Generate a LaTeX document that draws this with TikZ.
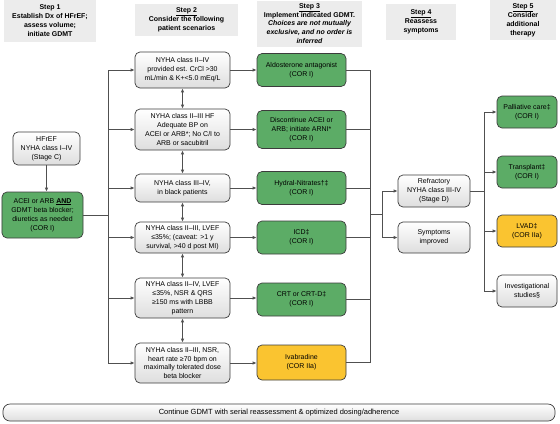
\documentclass[tikz,border=0pt]{standalone}
\usepackage{fontspec}
\setmainfont{Liberation Sans}
\usetikzlibrary{arrows.meta}
\definecolor{boxgreen}{RGB}{92,172,102}
\definecolor{boxyellow}{RGB}{250,196,48}
\definecolor{hdrgray}{RGB}{236,236,236}
\definecolor{edge}{RGB}{60,60,60}
\definecolor{conn}{RGB}{80,80,80}
\begin{document}
\begin{tikzpicture}[x=1bp,y=-1bp,
  base/.style={draw=edge,line width=0.7bp,rounded corners=5bp,align=center,
    font=\fontsize{7}{9}\selectfont,inner sep=1bp},
  graybox/.style={base,top color=white,bottom color=black!13},
  greenbox/.style={base,fill=boxgreen},
  yellowbox/.style={base,fill=boxyellow},
  hdr/.style={fill=hdrgray,align=center,font=\bfseries\fontsize{7}{9}\selectfont,inner sep=1bp},
  conline/.style={draw=conn,line width=0.8bp},
  arr/.style={conline,-{Latex[length=4bp,width=3.5bp]}},
  darr/.style={conline,{Latex[length=4bp,width=3.5bp]}-{Latex[length=4bp,width=3.5bp]}}
]
\useasboundingbox (0,0) rectangle (560,423);
% headers
\node[hdr,minimum width=92bp,minimum height=42bp] (h1) at (50,21) {Step 1\\Establish Dx of HFrEF;\\assess volume;\\initiate GDMT};
\node[hdr,minimum width=103bp,minimum height=32bp] (h2) at (186.5,20) {\underline{Step 2}\\Consider the following\\patient scenarios};
\node[hdr,minimum width=105bp,minimum height=46bp,inner sep=0pt,font=\bfseries\fontsize{7}{8.7}\selectfont] (h3) at (309.5,23.5) {\underline{Step 3}\\Implement indicated GDMT.\\\itshape Choices are not mutually\\\itshape exclusive, and no order is\\\itshape inferred};
\node[hdr,minimum width=70bp,minimum height=36bp] (h4) at (421,22) {\underline{Step 4}\\Reassess\\symptoms};
\node[hdr,minimum width=66bp,minimum height=40bp] (h5) at (523,20) {\underline{Step 5}\\Consider\\additional\\therapy};
% column 1
\node[graybox,minimum width=67bp,minimum height=33bp] (hf) at (46.5,148.5) {HFrEF\\NYHA class I–IV\\(Stage C)};
\node[greenbox,minimum width=81bp,minimum height=46bp] (acei) at (42.5,215) {ACEI or ARB \textbf{\underline{AND}}\\GDMT beta blocker;\\diuretics as needed\\(COR I)};
% column 2
\node[graybox,minimum width=95bp,minimum height=36bp] (n1) at (182.5,70) {NYHA class II–IV\\provided est. CrCl >30\\mL/min \& K+<5.0 mEq/L};
\node[graybox,minimum width=95bp,minimum height=41bp] (n2) at (182.5,129.5) {NYHA class II–III HF\\Adequate BP on\\ACEI or ARB*; No C/I to\\ARB or sacubitril};
\node[graybox,minimum width=95bp,minimum height=28bp] (n3) at (182.5,188) {NYHA class III–IV,\\in black patients};
\node[graybox,minimum width=95bp,minimum height=31bp] (n4) at (182.5,237.5) {NYHA class II–III, LVEF\\≤35\%; (caveat: >1 y\\survival, >40 d post MI)};
\node[graybox,minimum width=95bp,minimum height=40bp] (n5) at (182.5,298) {NYHA class II–IV, LVEF\\≤35\%, NSR \& QRS\\≥150 ms with LBBB\\pattern};
\node[graybox,minimum width=95bp,minimum height=40bp] (n6) at (182.5,363) {NYHA class II–III, NSR,\\heart rate ≥70 bpm on\\maximally tolerated dose\\beta blocker};
% column 3
\node[greenbox,minimum width=89bp,minimum height=33bp] (g1) at (301.5,70) {Aldosterone antagonist\\(COR I)};
\node[greenbox,minimum width=89bp,minimum height=38bp] (g2) at (301.5,129.5) {Discontinue ACEI or\\ARB; initiate ARNI*\\(COR I)};
\node[greenbox,minimum width=89bp,minimum height=33bp] (g3) at (301.5,188) {Hydral-Nitrates†‡\\(COR I)};
\node[greenbox,minimum width=89bp,minimum height=33bp] (g4) at (301.5,237.5) {ICD‡\\(COR I)};
\node[greenbox,minimum width=89bp,minimum height=33bp] (g5) at (301.5,299.5) {CRT or CRT-D‡\\(COR I)};
\node[yellowbox,minimum width=89bp,minimum height=35bp] (g6) at (301.5,362.5) {Ivabradine\\(COR IIa)};
% column 4
\node[graybox,minimum width=72bp,minimum height=32bp] (ref) at (434,191) {Refractory\\NYHA class III-IV\\(Stage D)};
\node[graybox,minimum width=72bp,minimum height=31bp] (imp) at (434,237.5) {Symptoms\\improved};
% column 5
\node[greenbox,minimum width=60bp,minimum height=32bp] (pal) at (527,112) {Palliative care‡\\(COR I)};
\node[greenbox,minimum width=60bp,minimum height=32bp] (tra) at (527,172) {Transplant‡\\(COR I)};
\node[yellowbox,minimum width=60bp,minimum height=32bp] (lvad) at (527,231) {LVAD‡\\(COR IIa)};
\node[graybox,minimum width=60bp,minimum height=32bp] (inv) at (527,291) {Investigational\\studies§};
% bottom
\node[graybox,minimum width=552bp,minimum height=17bp,rounded corners=7bp,font=\fontsize{7.5}{9}\selectfont] (cont) at (279,412.5) {Continue GDMT with serial reassessment \& optimized dosing/adherence};
% trunk coordinates
\coordinate (tr1) at (108,0);
\coordinate (tr3) at (370,0);
\coordinate (sp) at (382,214);
\coordinate (tr5) at (484,0);
% connectors column 1
\draw[arr] (hf.south) -- (hf.south |- acei.north);
\draw[conline] (acei.east) -- (acei.east -| tr1);
\draw[conline] (tr1 |- n1.west) -- (tr1 |- n6.west);
\foreach \n in {n1,n2,n3,n4,n5,n6} \draw[arr] (tr1 |- \n.west) -- (\n.west);
% between step-2 boxes
\draw[darr] (n1.south) -- (n2.north);
\draw[darr] (n2.south) -- (n3.north);
\draw[darr] (n3.south) -- (n4.north);
\draw[darr] (n4.south) -- (n5.north);
\draw[darr] (n5.south) -- (n6.north);
% step 2 -> step 3
\foreach \a/\b in {n1/g1,n2/g2,n3/g3,n4/g4,n5/g5,n6/g6} \draw[arr] (\a.east) -- (\a.east -| \b.west);
% step 3 -> trunk
\foreach \g in {g1,g2,g3,g4,g5,g6} \draw[conline] (\g.east) -- (\g.east -| tr3);
\draw[conline] (tr3 |- g1.east) -- (tr3 |- g6.east);
\draw[conline] (tr3 |- sp) -- (sp);
\draw[conline] (sp |- ref.west) -- (sp |- imp.west);
\draw[arr] (sp |- ref.west) -- (ref.west);
\draw[arr] (sp |- imp.west) -- (imp.west);
% step 4 -> step 5
\draw[conline] (ref.east) -- (ref.east -| tr5);
\draw[conline] (tr5 |- pal.west) -- (tr5 |- inv.west);
\foreach \n in {pal,tra,lvad,inv} \draw[arr] (tr5 |- \n.west) -- (\n.west);
\end{tikzpicture}
\end{document}
